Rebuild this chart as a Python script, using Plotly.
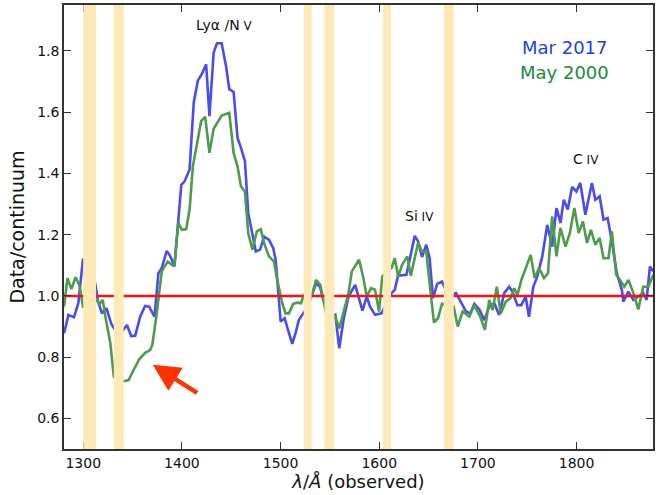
import plotly.graph_objects as go

# ---- data ----
wave_mar2017 = [1280.6, 1285, 1290.6, 1295, 1299.7, 1306, 1312.4, 1315, 1319, 1323.5, 1328.5, 1332, 1336,
                1341, 1344.3, 1348.6, 1352.7, 1357.7, 1362.7, 1366.8, 1372.2, 1376.2, 1379.6, 1384.6, 1388,
                1392.5, 1399.4, 1402.7, 1407.8, 1412, 1416.1, 1420.1, 1424.6, 1427.9, 1432.2, 1435.6, 1440.3,
                1444.7, 1448, 1452.4, 1456.4, 1459.8, 1463.9, 1467.2, 1470.5, 1474.9, 1479.3, 1483.3, 1488.3,
                1492.6, 1495, 1500.1, 1504.1, 1507.5, 1511.8, 1515.2, 1518.5, 1521.9, 1527, 1532, 1536, 1540,
                1543, 1548, 1552, 1555.5, 1559.5, 1563.8, 1568.9, 1575.6, 1579, 1583, 1587.3, 1590.7, 1595.8,
                1602.4, 1608, 1612.5, 1615.8, 1619.1, 1627.6, 1631, 1636, 1639.4, 1643.4, 1647.7, 1651.1,
                1654.5, 1658.8, 1663.6, 1670, 1677.9, 1683, 1688, 1692.4, 1696.4, 1701.5, 1706.5, 1711.5,
                1716.6, 1721.6, 1726.7, 1731.7, 1735, 1740, 1744, 1748.4, 1751.8, 1756.2, 1760.2, 1765.3,
                1770.3, 1775.3, 1779.7, 1783.7, 1787.1, 1791.1, 1795.5, 1799.8, 1803.8, 1808.9, 1815.6, 1819,
                1823.4, 1827.4, 1831.5, 1835.8, 1840.8, 1845.9, 1847.5, 1852.5, 1857.6, 1862.6, 1867.6, 1871,
                1874.4, 1878]
ratio_mar2017 = [0.878, 0.938, 0.930, 0.976, 1.118, 1.12, 1.036, 0.981, 0.943, 0.960, 0.908, 0.89, 0.87,
                 0.891, 0.905, 0.869, 0.870, 0.932, 0.967, 0.965, 0.932, 1.074, 1.091, 1.147, 1.131,
                 1.097, 1.363, 1.374, 1.413, 1.631, 1.702, 1.724, 1.756, 1.587, 1.795, 1.825, 1.825,
                 1.751, 1.675, 1.666, 1.516, 1.484, 1.440, 1.271, 1.216, 1.145, 1.151, 1.194, 1.183,
                 1.156, 1.118, 0.916, 0.927, 0.889, 0.843, 0.878, 0.921, 0.938, 0.96, 1.005, 1.04, 1.03,
                 0.99, 0.95, 0.93, 0.938, 0.829, 0.921, 0.998, 1.036, 0.998, 0.952, 0.998, 0.965, 0.938,
                 0.943, 0.98, 1.009, 1.02, 1.066, 1.069, 1.118, 1.196, 1.178, 1.127, 1.167, 1.123,
                 0.993, 1.039, 1.047, 1.0, 1.009, 0.978, 0.949, 0.943, 0.974, 0.956, 0.921, 0.965,
                 0.976, 0.938, 1.009, 1.03, 1.014, 0.97, 0.97, 0.998, 0.932, 1.03, 1.063, 1.129,
                 1.232, 1.161, 1.287, 1.238, 1.314, 1.282, 1.356, 1.341, 1.369, 1.265, 1.369, 1.314,
                 1.325, 1.249, 1.254, 1.178, 1.074, 1.020, 0.981, 1.014, 0.987, 0.998, 1.009, 0.987,
                 1.096, 1.08]

wave_may2000 = [1280.6, 1284, 1288, 1292.2, 1296.3, 1299.7, 1306, 1314, 1316.4, 1319.8, 1322.5, 1327.5, 1331,
                1336, 1341.9, 1346, 1351, 1356.7, 1362.7, 1367.8, 1370, 1374.5, 1379.6, 1385.6, 1392.3,
                1396.3, 1400, 1404.4, 1407.8, 1411.1, 1415.5, 1419.5, 1423.6, 1427.9, 1432.2, 1435.6, 1440.3,
                1448, 1452.4, 1456.4, 1459.8, 1463.9, 1467.2, 1471.5, 1476, 1480, 1483.3, 1488.3, 1493.4,
                1496.7, 1501.7, 1505.1, 1508.5, 1512.8, 1517.5, 1520.8, 1523.6, 1528, 1532.4, 1535.9, 1540.3,
                1542.7, 1547, 1552, 1555.5, 1559.5, 1563.8, 1568.9, 1572.2, 1579.6, 1584, 1587.3, 1591.7,
                1595.8, 1599.8, 1603.1, 1608, 1612.5, 1615.8, 1619.2, 1623.3, 1628.5, 1632, 1636, 1639.4,
                1643.4, 1647.7, 1651.1, 1655.5, 1659.5, 1663.6, 1670, 1675.4, 1679.6, 1684.6, 1691.3, 1696.4,
                1702.4, 1707.1, 1711.5, 1714.9, 1719.2, 1723.2, 1728.3, 1733.3, 1736.7, 1740.1, 1744.1, 1750.2,
                1753.5, 1757.6, 1762, 1767, 1771, 1775.3, 1779.7, 1783.7, 1788.8, 1793.2, 1797.8, 1802.2,
                1806.5, 1810.6, 1814.6, 1819, 1823.4, 1827.4, 1832.4, 1835.8, 1840.2, 1844.2, 1848.3, 1852.7,
                1857.6, 1862.6, 1867.6, 1872.7, 1878]
ratio_may2000 = [0.965, 1.058, 1.022, 1.061, 1.033, 0.965, 0.97, 0.987, 0.973, 0.987, 0.932, 0.845, 0.736,
                 0.72, 0.722, 0.725, 0.758, 0.793, 0.814, 0.823, 0.840, 0.943, 1.080, 1.112, 1.096,
                 1.240, 1.216, 1.218, 1.282, 1.423, 1.500, 1.571, 1.585, 1.467, 1.546, 1.566, 1.589,
                 1.598, 1.467, 1.423, 1.358, 1.341, 1.205, 1.151, 1.211, 1.218, 1.172, 1.129, 1.112,
                 1.052, 0.976, 0.943, 0.943, 0.974, 0.978, 0.976, 1.003, 1.01, 1.009, 1.052, 1.036,
                 0.998, 0.93, 0.92, 0.932, 0.894, 0.943, 1.009, 1.080, 1.118, 1.058, 0.998, 1.025,
                 1.020, 0.949, 1.063, 1.08, 1.091, 1.123, 1.063, 1.102, 1.129, 1.066, 1.129, 1.173,
                 1.145, 1.145, 1.041, 0.913, 0.927, 0.974, 0.97, 0.965, 0.900, 0.949, 0.932, 0.970,
                 0.932, 0.889, 0.987, 0.954, 1.03, 0.943, 0.981, 0.993, 1.025, 1.003, 1.052, 1.107,
                 1.134, 1.058, 1.091, 1.058, 1.074, 1.26, 1.129, 1.222, 1.161, 1.205, 1.287, 1.205,
                 1.243, 1.173, 1.216, 1.167, 1.189, 1.123, 1.123, 1.211, 1.069, 1.052, 1.030, 1.052,
                 1.009, 0.956, 1.030, 1.030, 1.07]

masked_bands = [(1300, 1313), (1331, 1341), (1523.5, 1531.5), (1544.5, 1554.5), (1604, 1612), (1665.5, 1675.5)]

line_labels = ["Lyα /N<span style='font-size:12px'> V</span>",
               "Si<span style='font-size:12px'> IV</span>",
               "C<span style='font-size:12px'> IV</span>"]
line_label_pos = [(1443, 1.885), (1641, 1.262), (1810, 1.447)]

series_names = ["Mar 2017", "May 2000"]
continuum_level = 1.0

FONT = "DejaVu Sans"
BLUE = "#4b4bf2"
GREEN = "#4c9c4c"

fig = go.Figure()
fig.add_trace(go.Scatter(x=wave_mar2017, y=ratio_mar2017, mode="lines",
                         line=dict(color=BLUE, width=2.6), name=series_names[0]))
fig.add_trace(go.Scatter(x=wave_may2000, y=ratio_may2000, mode="lines",
                         line=dict(color=GREEN, width=2.6), name=series_names[1]))
fig.add_trace(go.Scatter(x=[1270, 1890], y=[continuum_level, continuum_level], mode="lines",
                         line=dict(color="#ff1010", width=2.5), name="continuum"))

for lo, hi in masked_bands:
    fig.add_shape(type="rect", xref="x", yref="paper", x0=lo, x1=hi, y0=0, y1=1,
                  fillcolor="#fce9b5", line=dict(width=0), layer="above")

for txt, (lx, ly) in zip(line_labels, line_label_pos):
    fig.add_annotation(x=lx, y=ly, text=txt, showarrow=False,
                       font=dict(family=FONT, size=14, color="#111"))

fig.add_annotation(x=1788, y=1.812, text=series_names[0], showarrow=False,
                   font=dict(family=FONT, size=18, color="#1a3ff0"))
fig.add_annotation(x=1788, y=1.730, text=series_names[1], showarrow=False,
                   font=dict(family=FONT, size=18, color="#1b8a3c"))

# red arrow pointing to the absorption feature
fig.add_annotation(x=1370.5, y=0.775, ax=1417, ay=0.680, xref="x", yref="y", axref="x", ayref="y",
                   text="", showarrow=True, arrowhead=2, arrowsize=1.2, arrowwidth=4.5,
                   arrowcolor="#ff3300")

axis_common = dict(showgrid=False, zeroline=False, showline=True, linecolor="#333", linewidth=1.5,
                   mirror="ticks", ticks="inside", ticklen=7, tickwidth=1.3, tickcolor="#333",
                   tickfont=dict(family=FONT, size=14, color="#111"))

fig.update_layout(
    width=656, height=495,
    margin=dict(l=64, r=1, t=5, b=46),
    plot_bgcolor="white", paper_bgcolor="white",
    showlegend=False,
    xaxis=dict(range=[1280.5, 1877.5], tickvals=[1300, 1400, 1500, 1600, 1700, 1800],
               title=dict(text="<i>λ</i>/<i>Å</i> (observed)", font=dict(family=FONT, size=18, color="#111"),
                          standoff=6),
               **axis_common),
    yaxis=dict(range=[0.5, 1.95], tickvals=[0.6, 0.8, 1.0, 1.2, 1.4, 1.6, 1.8], tickformat=".1f",
               title=dict(text="Data/continuum", font=dict(family=FONT, size=19, color="#111"),
                          standoff=8),
               **axis_common),
)

fig.write_html("out.html", config={"displayModeBar": False},
               post_script="document.body.style.margin='0px';")
